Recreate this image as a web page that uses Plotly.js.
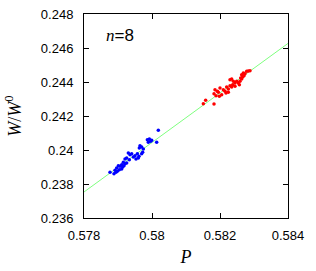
<!DOCTYPE html>
<html><head><meta charset="utf-8">
<script src="https://cdn.plot.ly/plotly-3.0.1.min.js"></script>
<style>html,body{margin:0;padding:0;background:#fff}#c{width:316px;height:271px}</style>
</head><body><div id="c"></div>
<script>
const blueP = [0.580186,0.579863,0.579922,0.579961,0.579990,0.580137,0.579892,0.579647,0.579696,0.579745,0.579627,0.579304,0.579353,0.579402,0.579500,0.579569,0.579618,0.579696,0.579725,0.579206,0.579255,0.579333,0.579451,0.579529,0.579598,0.579157,0.579206,0.579255,0.579108,0.579010,0.579059,0.579137,0.579176,0.578961,0.579039,0.579108,0.578912,0.578980,0.578941,0.578765,0.578882];
const blueW = [0.241157,0.240608,0.240647,0.240510,0.240569,0.240451,0.240451,0.240255,0.240176,0.240059,0.240118,0.239824,0.239725,0.239784,0.239667,0.239784,0.239627,0.239784,0.239863,0.239471,0.239529,0.239431,0.239588,0.239471,0.239529,0.239275,0.239196,0.239235,0.239137,0.239078,0.239039,0.239000,0.239078,0.238941,0.238843,0.238882,0.238804,0.238745,0.238686,0.238686,0.238608];
const redP = [0.581510,0.581578,0.581824,0.581824,0.581882,0.581951,0.581853,0.582000,0.581980,0.582049,0.581922,0.582098,0.582147,0.582196,0.582245,0.582294,0.582176,0.582245,0.582343,0.582294,0.582343,0.582392,0.582441,0.582490,0.582373,0.582441,0.582588,0.582637,0.582667,0.582706,0.582637,0.582735,0.582784,0.582833,0.582882,0.582686,0.582608,0.582539,0.582569];
const redW = [0.242725,0.242922,0.242706,0.243314,0.243196,0.243392,0.243549,0.243647,0.243157,0.243255,0.243451,0.243549,0.243451,0.243706,0.243588,0.243784,0.243353,0.243392,0.243706,0.244137,0.244176,0.244039,0.243941,0.244039,0.243843,0.243745,0.244039,0.244176,0.244294,0.244373,0.244431,0.244490,0.244627,0.244647,0.244667,0.244529,0.244235,0.243941,0.243843];
const fitP = [0.578, 0.584];
const fitW = [0.23753, 0.24627];
const xTicks = [0.578, 0.58, 0.582, 0.584];
const xTickText = ['0.578', '0.58', '0.582', '0.584'];
const yTicks = [0.236, 0.238, 0.24, 0.242, 0.244, 0.246, 0.248];
const yTickText = ['0.236', '0.238', '0.24', '0.242', '0.244', '0.246', '0.248'];

const traces = [
  {x: fitP, y: fitW, mode: 'lines', line: {color: '#7fff7f', width: 1}, hoverinfo: 'skip'},
  {x: blueP, y: blueW, mode: 'markers', marker: {color: '#0000ff', size: 3.5, symbol: 'circle', line: {width: 0}}},
  {x: redP, y: redW, mode: 'markers', marker: {color: '#ff0000', size: 3.5, symbol: 'circle', line: {width: 0}}}
];
const axisCommon = {
  showgrid: false, zeroline: false, showline: true, linecolor: '#000', linewidth: 1,
  mirror: 'ticks', ticks: 'inside', ticklen: 5, tickcolor: '#000', tickwidth: 1,
  tickfont: {family: 'Liberation Sans, Arial, sans-serif', size: 13, color: '#000'}
};
const layout = {
  width: 316, height: 271, showlegend: false,
  paper_bgcolor: '#fff', plot_bgcolor: '#fff',
  margin: {l: 84, r: 28, t: 14, b: 53},
  xaxis: Object.assign({}, axisCommon, {
    range: [0.578, 0.584], tickvals: xTicks, ticktext: xTickText, ticklabelstandoff: 5,
    title: {text: '<i>P</i>', font: {family: 'Liberation Serif, serif', size: 18, color: '#000'}, standoff: 8}
  }),
  yaxis: Object.assign({}, axisCommon, {
    range: [0.236, 0.248], tickvals: yTicks, ticktext: yTickText, ticklabelstandoff: 7,
    title: {text: '<i>W</i>/<i>W</i><sup>0</sup>', font: {family: 'Liberation Serif, serif', size: 18, color: '#000'}, standoff: 14}
  }),
  annotations: [{
    xref: 'paper', yref: 'paper', x: 0.1, y: 0.897, xanchor: 'left', yanchor: 'middle', showarrow: false,
    text: "<span style=\"font-family:'Liberation Serif';font-style:italic\">n</span>=8",
    font: {family: 'Liberation Sans, Arial, sans-serif', size: 17, color: '#000'}
  }]
};
Plotly.newPlot('c', traces, layout, {displayModeBar: false, staticPlot: true});
</script></body></html>
